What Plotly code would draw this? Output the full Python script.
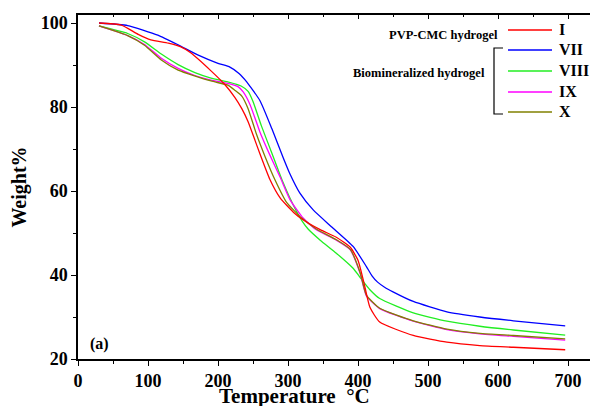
import plotly.graph_objects as go

# TGA curves (temperature in °C, weight in %)
t_I  = [30, 62, 86, 104, 129, 147, 161, 190, 210, 224, 234, 243, 253, 260, 274, 289, 308, 322, 346, 369, 389, 400, 408, 417, 431, 479, 527, 574, 622, 696]
w_I  = [100, 99.5, 97.3, 96.0, 95.2, 94.3, 92.9, 88.6, 85.3, 82.3, 79.6, 76.5, 72.0, 68.8, 62.8, 58.3, 54.9, 53.1, 50.8, 49.0, 46.6, 43.5, 38.5, 32.3, 28.8, 25.6, 24.0, 23.2, 22.8, 22.2]

t_VII = [30, 71, 114, 143, 171, 200, 217, 230, 241, 260, 277, 293, 303, 317, 336, 362, 393, 412, 420, 428, 438, 450, 479, 527, 574, 622, 696]
w_VII = [100, 99.4, 97.1, 94.8, 92.4, 90.4, 89.5, 88.0, 86.0, 81.5, 74.8, 68.0, 64.0, 59.5, 55.5, 51.5, 46.8, 42.0, 39.8, 38.3, 37.1, 36.0, 33.7, 31.2, 30.0, 29.1, 27.9]

t_VIII = [30, 71, 95, 119, 143, 167, 190, 214, 233, 243, 250, 262, 277, 293, 308, 320, 329, 346, 369, 393, 405, 417, 431, 479, 527, 574, 622, 696]
w_VIII = [99.3, 97.5, 95.5, 92.6, 90.1, 88.2, 86.9, 86.0, 85.0, 83.7, 81.3, 75.5, 69.0, 62.0, 56.5, 52.9, 50.9, 48.3, 45.2, 41.6, 39.0, 36.5, 34.4, 31.0, 29.0, 27.8, 26.9, 25.7]

t_IX = [30, 71, 95, 119, 143, 167, 190, 214, 229, 236, 246, 260, 274, 289, 303, 322, 341, 369, 389, 403, 412, 431, 479, 527, 574, 622, 696]
w_IX = [99.3, 97.0, 94.9, 91.6, 89.2, 87.5, 86.4, 85.6, 84.8, 83.6, 80.5, 74.0, 68.6, 63.2, 57.9, 53.5, 50.7, 48.3, 46.0, 40.4, 35.0, 32.0, 29.0, 27.0, 26.0, 25.4, 24.5]

t_X = [30, 71, 95, 119, 143, 190, 214, 224, 234, 243, 255, 267, 281, 298, 320, 341, 369, 389, 403, 412, 431, 479, 527, 574, 622, 696]
w_X = [99.3, 97.0, 94.7, 91.2, 88.8, 86.2, 85.2, 84.0, 82.6, 79.6, 73.5, 68.3, 62.8, 57.3, 53.5, 50.9, 48.4, 46.1, 40.6, 35.2, 32.1, 29.1, 27.1, 26.1, 25.6, 24.8]

series = [
    ("VII", t_VII, w_VII, "#0000ff"),
    ("VIII", t_VIII, w_VIII, "#22ee22"),
    ("IX", t_IX, w_IX, "#ff00ff"),
    ("X", t_X, w_X, "#808000"),
    ("I", t_I, w_I, "#ff0000"),
]

x_ticks = [0, 100, 200, 300, 400, 500, 600, 700]
y_ticks = [20, 40, 60, 80, 100]

FONT = "Liberation Serif"

fig = go.Figure()
for name, xs, ys, col in series:
    fig.add_trace(go.Scatter(x=xs, y=ys, mode="lines", name=name,
                             line=dict(color=col, width=1.3, shape="spline", smoothing=0.5),
                             showlegend=False))

# page body has an 8px margin: work in screen pixels and shift
OFF = 8
L, R, T, B = 78, 598, 15, 359
def px(xp): return (xp - L) / (R - L)
def py(yp): return (B - yp) / (B - T)

leg = [("I", "#ff0000", 30), ("VII", "#0000ff", 50), ("VIII", "#22ee22", 71),
       ("IX", "#ff00ff", 92), ("X", "#808000", 112)]
for lab, col, yy in leg:
    fig.add_shape(type="line", xref="paper", yref="paper", x0=px(508), x1=px(552),
                  y0=py(yy), y1=py(yy), line=dict(color=col, width=1.3))
    fig.add_annotation(xref="paper", yref="paper", x=px(557), y=py(yy), text="<b>%s</b>" % lab,
                       showarrow=False, xanchor="left", yanchor="middle",
                       font=dict(family=FONT, size=16, color="black"))
# bracket
fig.add_shape(type="path", xref="paper", yref="paper",
              path="M %f %f L %f %f L %f %f L %f %f" % (px(503), py(48), px(494), py(48), px(494), py(114), px(503), py(114)),
              line=dict(color="black", width=1.2))
fig.add_annotation(xref="paper", yref="paper", x=px(500), y=py(35), text="<b>PVP-CMC hydrogel</b>",
                   showarrow=False, xanchor="right", yanchor="middle",
                   font=dict(family=FONT, size=12.5, color="black"))
fig.add_annotation(xref="paper", yref="paper", x=px(487), y=py(73), text="<b>Biomineralized hydrogel</b>",
                   showarrow=False, xanchor="right", yanchor="middle",
                   font=dict(family=FONT, size=12.5, color="black"))
fig.add_annotation(xref="paper", yref="paper", x=px(88), y=py(344), text="<b>(a)</b>",
                   showarrow=False, xanchor="left", yanchor="middle",
                   font=dict(family=FONT, size=16, color="black"))
# x-axis title (placed as in the reference, just below the tick labels)
fig.add_annotation(xref="paper", yref="paper", x=px(294), y=py(396), text="<b>Temperature\u00a0\u00a0°C</b>",
                   showarrow=False, xanchor="center", yanchor="middle",
                   font=dict(family=FONT, size=21, color="black"))

axis_common = dict(showgrid=False, zeroline=False, showline=True, linecolor="black", linewidth=1.5,
                   ticks="outside", ticklen=5, tickwidth=1.2, tickcolor="black", automargin=False,
                   tickfont=dict(family=FONT, size=18, color="black"))

fig.update_layout(
    width=598 - OFF, height=406 - OFF,
    margin=dict(l=L - OFF, r=0, t=T - OFF, b=406 - B, autoexpand=False),
    plot_bgcolor="white", paper_bgcolor="white",
    xaxis=dict(range=[0, (R - L) / 0.7], tickvals=x_ticks, ticktext=["<b>%d</b>" % v for v in x_ticks],
               minor=dict(dtick=50, ticks="outside", ticklen=3, tickcolor="black"),
               **axis_common),
    yaxis=dict(range=[20, 20 + (B - T) / 4.2], tickvals=y_ticks, ticktext=["<b>%d</b>" % v for v in y_ticks],
               minor=dict(dtick=10, ticks="outside", ticklen=3, tickcolor="black"),
               title=dict(text="<b>Weight%</b>", font=dict(family=FONT, size=20, color="black"), standoff=12),
               **axis_common),
    xaxis2=dict(overlaying="x", side="top", matches="x", showgrid=False, zeroline=False, showline=True,
                linecolor="black", linewidth=1.5, ticks="inside", ticklen=4, tickcolor="black",
                tickvals=x_ticks, showticklabels=False, automargin=False,
                minor=dict(dtick=50, ticks="inside", ticklen=2, tickcolor="black")),
)
fig.add_trace(go.Scatter(x=[0], y=[20], xaxis="x2", mode="markers", marker=dict(opacity=0), showlegend=False, hoverinfo="skip"))
fig.write_html("out.html")
